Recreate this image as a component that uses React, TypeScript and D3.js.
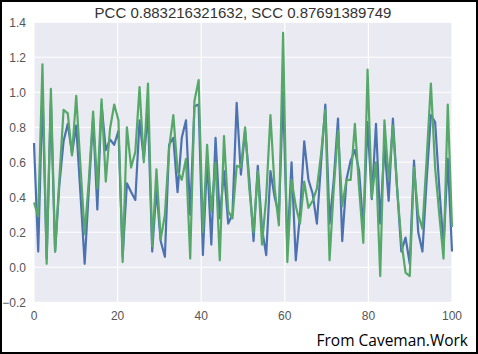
import React from "react";
import { select, scaleLinear, line, range } from "d3";

// values, 100 samples spread over 0..100
const blueSeries = [
  0.71, 0.09, 1.0, 0.05, 0.95, 0.09, 0.47, 0.72, 0.82, 0.65,
  0.81, 0.42, 0.02, 0.45, 0.85, 0.33, 0.93, 0.67, 0.73, 0.7,
  0.78, 0.06, 0.48, 0.43, 0.385, 0.84, 0.62, 0.88, 0.09, 0.45,
  0.15, 0.06, 0.7, 0.74, 0.43, 0.74, 0.84, 0.3, 0.92, 0.93,
  0.07, 0.62, 0.13, 0.74, 0.28, 0.55, 0.25, 0.3, 0.94, 0.53,
  0.78, 0.5, 0.15, 0.58, 0.22, 0.07, 0.55, 0.4, 0.3, 1.0,
  0.1, 0.6, 0.04, 0.3, 0.72, 0.5, 0.42, 0.25, 0.6, 0.93,
  0.25, 0.5, 0.85, 0.15, 0.5, 0.61, 0.67, 0.55, 0.22, 0.83,
  0.39, 0.82, 0.25, 0.7, 0.38, 0.85, 0.45, 0.09, 0.17, 0.02,
  0.61, 0.2, 0.09, 0.5, 0.87, 0.83, 0.45, 0.12, 0.62, 0.09,
];

const greenSeries = [
  0.37, 0.29, 1.16, 0.02, 1.02, 0.09, 0.5, 0.9, 0.88, 0.64,
  0.98, 0.58, 0.19, 0.5, 0.89, 0.45, 0.96, 0.49, 0.79, 0.93,
  0.84, 0.03, 0.8, 0.57, 0.66, 1.03, 0.6, 1.05, 0.12, 0.56,
  0.16, 0.3, 0.68, 0.87, 0.55, 0.5, 0.62, 0.05, 0.95, 1.07,
  0.2, 0.7, 0.32, 0.6, 0.04, 0.75, 0.32, 0.28, 0.58, 0.57,
  0.8, 0.45, 0.2, 0.55, 0.13, 0.4, 0.87, 0.45, 0.24, 1.34,
  0.03, 0.5, 0.35, 0.25, 0.49, 0.34, 0.38, 0.45, 0.65, 0.9,
  0.04, 0.45, 0.78, 0.35, 0.5, 0.5, 0.82, 0.45, 0.14, 1.13,
  0.4, 0.6, -0.05, 0.84, 0.5, 0.81, 0.45, 0.15, -0.03, -0.05,
  0.57, 0.3, 0.22, 0.62, 1.05, 0.57, 0.3, 0.05, 0.93, 0.23,
];

const xTicks = [0, 20, 40, 60, 80, 100];
const yTicks = [-0.2, 0, 0.2, 0.4, 0.6, 0.8, 1.0, 1.2, 1.4];
const titleText = "PCC 0.883216321632, SCC 0.87691389749";
const creditText = "From Caveman.Work";

const W = 478;
const H = 354;
const plot = { left: 34, right: 452, top: 22.3, bottom: 302.3 };

export default function App() {
  const svgRef = React.useRef<SVGSVGElement | null>(null);

  React.useEffect(() => {
    const svg = select(svgRef.current);
    svg.selectAll("*").remove();

    const x = scaleLinear().domain([0, 100]).range([plot.left, plot.right]);
    const y = scaleLinear().domain([-0.2, 1.4]).range([plot.bottom, plot.top]);
    const xs = range(blueSeries.length).map((k) => (k * 100) / (blueSeries.length - 1));

    svg.append("rect").attr("width", W).attr("height", H).attr("fill", "#fff");

    svg
      .append("rect")
      .attr("x", plot.left)
      .attr("y", plot.top)
      .attr("width", plot.right - plot.left)
      .attr("height", plot.bottom - plot.top)
      .attr("fill", "#EAEAF2");

    const grid = svg.append("g").attr("stroke", "#fff").attr("stroke-width", 1.1);
    grid
      .selectAll("line.gy")
      .data(yTicks)
      .join("line")
      .attr("class", "gy")
      .attr("x1", plot.left)
      .attr("x2", plot.right)
      .attr("y1", (d) => y(d))
      .attr("y2", (d) => y(d));
    grid
      .selectAll("line.gx")
      .data(xTicks)
      .join("line")
      .attr("class", "gx")
      .attr("x1", (d) => x(d))
      .attr("x2", (d) => x(d))
      .attr("y1", plot.top)
      .attr("y2", plot.bottom);

    const path = (vals: number[]) =>
      line<number>()
        .x((_, i) => x(xs[i]))
        .y((d) => y(d))(vals);

    const lines = svg.append("g").attr("fill", "none").attr("stroke-width", 2.2).attr("stroke-linejoin", "round");
    lines.append("path").attr("d", path(blueSeries)).attr("stroke", "#4C72B0");
    lines.append("path").attr("d", path(greenSeries)).attr("stroke", "#55A868");

    const labels = svg
      .append("g")
      .attr("font-family", "Liberation Sans, Arial, sans-serif")
      .attr("font-size", 12)
      .attr("fill", "#555");
    labels
      .selectAll("text.ty")
      .data(yTicks)
      .join("text")
      .attr("class", "ty")
      .attr("x", 26)
      .attr("y", (d) => y(d))
      .attr("dy", "0.35em")
      .attr("text-anchor", "end")
      .text((d) => d.toFixed(1).replace("-", "\u2212"));
    labels
      .selectAll("text.tx")
      .data(xTicks)
      .join("text")
      .attr("class", "tx")
      .attr("x", (d) => x(d))
      .attr("y", 320)
      .attr("text-anchor", "middle")
      .text((d) => String(d));

    svg
      .append("text")
      .attr("x", (plot.left + plot.right) / 2)
      .attr("y", 18)
      .attr("text-anchor", "middle")
      .attr("font-family", "Liberation Sans, Arial, sans-serif")
      .attr("font-size", 15)
      .attr("fill", "#333")
      .text(titleText);

    svg
      .append("text")
      .attr("x", 468)
      .attr("y", 346)
      .attr("text-anchor", "end")
      .attr("font-family", "Open Sans, sans-serif")
      .attr("font-size", 15.5)
      .attr("fill", "#000")
      .text(creditText);

    svg
      .append("rect")
      .attr("x", 1)
      .attr("y", 1)
      .attr("width", W - 2)
      .attr("height", H - 2)
      .attr("fill", "none")
      .attr("stroke", "#000")
      .attr("stroke-width", 2);

    return () => {
      svg.selectAll("*").remove();
    };
  }, []);

  return (
    <svg
      ref={svgRef}
      width={W}
      height={H}
      style={{ position: "absolute", left: 0, top: 0, display: "block" }}
    />
  );
}
